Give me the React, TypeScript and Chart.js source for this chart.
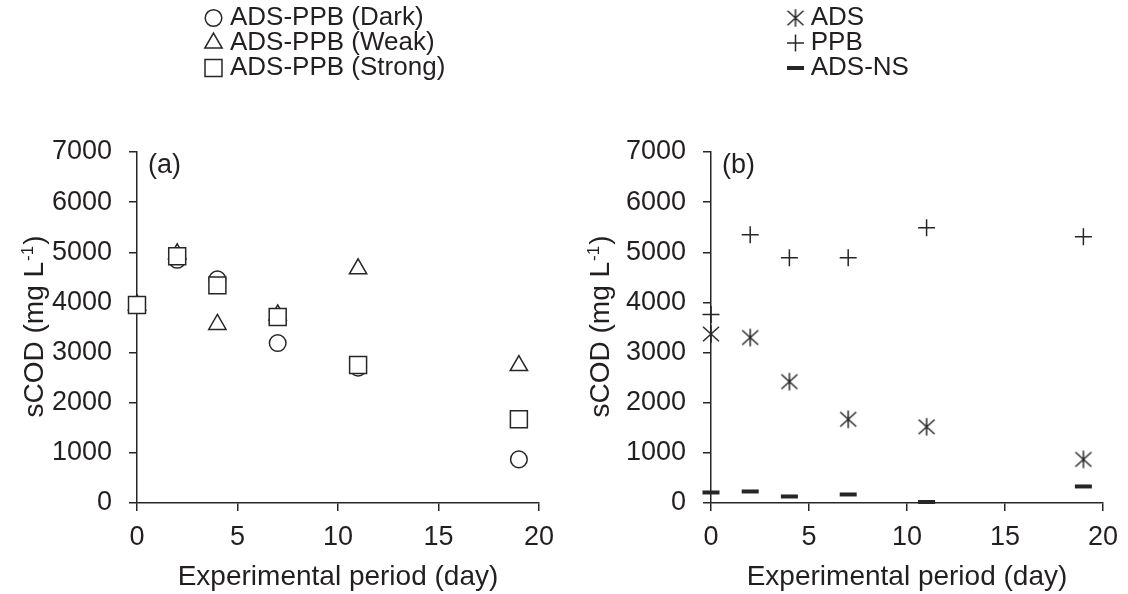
import React, { useEffect, useRef } from 'react';
import { Chart, registerables } from 'chart.js';
import { drawPoint } from 'chart.js/helpers';

Chart.register(...registerables);

// ---------- data ----------
const days = [0, 2, 4, 7, 11, 19];

const darkValues = [3950, 4850, 4460, 3190, 2700, 870];
const weakValues = [3950, 4970, 3560, 3750, 4670, 2740];
const strongValues = [3950, 4920, 4340, 3710, 2750, 1670];

const adsValues = [3370, 3300, 2420, 1670, 1520, 870];
const ppbValues = [3760, 5350, 4890, 4890, 5490, 5310];
const adsNsValues = [210, 230, 130, 170, 20, 330];

const xTickStep = 5;
const xMin = 0;
const xMax = 20;
const yTickStep = 1000;
const yMin = 0;
const yMax = 7000;

const xTitle = 'Experimental period (day)';
const yTitleMain = 'sCOD (mg L';
const yTitleSup = '-1';
const yTitleEnd = ')';

// ---------- style ----------
const FONT = '"Liberation Sans", Arial, Helvetica, sans-serif';
const INK = '#231f20';
const LINE = '#262626';
const W = 564;
const H = 594;

function makeAsterisk(): HTMLCanvasElement {
  const c = document.createElement('canvas');
  c.width = 22;
  c.height = 22;
  const g = c.getContext('2d')!;
  g.strokeStyle = LINE;
  g.lineWidth = 1.5;
  const cx = 11, cy = 11;
  g.beginPath();
  g.moveTo(cx, cy - 8.7);
  g.lineTo(cx, cy + 8.7);
  g.moveTo(cx - 8, cy - 7.2);
  g.lineTo(cx + 8, cy + 7.2);
  g.moveTo(cx - 8, cy + 7.2);
  g.lineTo(cx + 8, cy - 7.2);
  g.stroke();
  return c;
}

const toPts = (vals: number[]) => days.map((d, i) => ({ x: d, y: vals[i] }));

const decorPlugin = {
  id: 'decor',
  afterDraw(chart: any, _args: any, opts: any) {
    const ctx: CanvasRenderingContext2D = chart.ctx;
    ctx.save();
    // panel label
    ctx.fillStyle = INK;
    ctx.font = `27px ${FONT}`;
    ctx.textAlign = 'left';
    ctx.textBaseline = 'middle';
    ctx.fillText(opts.panel, opts.panelX, opts.panelY);

    // y title with superscript
    ctx.save();
    ctx.translate(opts.yTitleX, (chart.chartArea.top + chart.chartArea.bottom) / 2);
    ctx.rotate(-Math.PI / 2);
    ctx.textBaseline = 'alphabetic';
    const big = `28px ${FONT}`;
    const small = `17px ${FONT}`;
    ctx.font = big;
    const w1 = ctx.measureText(yTitleMain).width;
    const w3 = ctx.measureText(yTitleEnd).width;
    ctx.font = small;
    const w2 = ctx.measureText(yTitleSup).width;
    const x = -(w1 + w2 + w3) / 2;
    const base = 10;
    ctx.font = big;
    ctx.fillText(yTitleMain, x, base);
    ctx.font = small;
    ctx.fillText(yTitleSup, x + w1 + 1, base - 10);
    ctx.font = big;
    ctx.fillText(yTitleEnd, x + w1 + w2 + 2, base);
    ctx.restore();

    // legend
    ctx.font = `26px ${FONT}`;
    ctx.textBaseline = 'middle';
    chart.data.datasets.forEach((ds: any, i: number) => {
      const y = opts.legendY + i * opts.legendDy;
      ctx.strokeStyle = ds.pointBorderColor;
      ctx.fillStyle = ds.pointBackgroundColor;
      ctx.lineWidth = ds.pointBorderWidth;
      drawPoint(ctx, {
        pointStyle: ds.pointStyle,
        radius: ds.pointRadius,
        borderWidth: ds.pointBorderWidth,
        rotation: 0,
      } as any, opts.legendX, y);
      ctx.fillStyle = INK;
      ctx.fillText(ds.label, opts.legendTextX, y);
    });
    ctx.restore();
  },
};

function makeOptions(yWidth: number, rightPad: number, decor: any) {
  const tickFont = { family: FONT, size: 27 };
  return {
    responsive: false,
    animation: false as const,
    events: [] as any[],
    layout: { padding: { top: 152, right: rightPad, left: 0, bottom: 0 } },
    plugins: {
      legend: { display: false },
      tooltip: { enabled: false },
      decor,
    },
    scales: {
      x: {
        type: 'linear' as const,
        min: xMin,
        max: xMax,
        afterFit: (s: any) => { s.height = 91; },
        border: { color: LINE, width: 1.5 },
        grid: { drawOnChartArea: false, drawTicks: true, tickLength: 8, color: LINE, lineWidth: 1.5 },
        ticks: { stepSize: xTickStep, color: INK, font: tickFont, padding: 10, maxRotation: 0, callback: (v: any) => String(v) },
        title: { display: true, text: xTitle, color: INK, font: { family: FONT, size: 28 }, padding: { top: 0, bottom: 0 } },
      },
      y: {
        type: 'linear' as const,
        min: yMin,
        max: yMax,
        afterFit: (s: any) => { s.width = yWidth; },
        border: { color: LINE, width: 1.5 },
        grid: { drawOnChartArea: false, drawTicks: true, tickLength: 8, color: LINE, lineWidth: 1.5 },
        ticks: { stepSize: yTickStep, color: INK, font: tickFont, padding: 17, callback: (v: any) => String(v) },
      },
    },
  };
}

function ds(label: string, vals: number[], style: any, radius: number, width: number, order: number) {
  return {
    label,
    data: toPts(vals),
    pointStyle: style,
    pointRadius: radius,
    pointHoverRadius: radius,
    pointBorderWidth: width,
    pointBorderColor: LINE,
    pointBackgroundColor: '#ffffff',
    borderColor: LINE,
    backgroundColor: '#ffffff',
    showLine: false,
    clip: false,
    order,
  };
}

export default function App() {
  const leftRef = useRef<HTMLCanvasElement>(null);
  const rightRef = useRef<HTMLCanvasElement>(null);

  useEffect(() => {
    const asterisk = makeAsterisk();
    const left = new Chart(leftRef.current!, {
      type: 'scatter',
      data: {
        datasets: [
          ds('ADS-PPB (Dark)', darkValues, 'circle', 8.3, 1.5, 2),
          ds('ADS-PPB (Weak)', weakValues, 'triangle', 10, 1.5, 1),
          ds('ADS-PPB (Strong)', strongValues, 'rect', 12, 1.5, 0),
        ],
      },
      options: makeOptions(137, 24, {
        panel: '(a)', panelX: 148, panelY: 166, yTitleX: 33,
        legendX: 213.5, legendTextX: 230, legendY: 18, legendDy: 25,
      }) as any,
      plugins: [decorPlugin],
    });
    const right = new Chart(rightRef.current!, {
      type: 'scatter',
      data: {
        datasets: [
          ds('ADS', adsValues, asterisk, 9, 1.5, 0),
          ds('PPB', ppbValues, 'cross', 8.5, 1.5, 1),
          ds('ADS-NS', adsNsValues, 'line', 8.5, 4, 2),
        ],
      },
      options: makeOptions(147, 17, {
        panel: '(b)', panelX: 158, panelY: 166, yTitleX: 35,
        legendX: 231.5, legendTextX: 246.7, legendY: 18, legendDy: 25,
      }) as any,
      plugins: [decorPlugin],
    });
    return () => {
      left.destroy();
      right.destroy();
    };
  }, []);

  return (
    <div style={{ position: 'absolute', left: 0, top: 0, width: 1128, height: 594, background: '#fff' }}>
      <canvas ref={leftRef} width={W} height={H} style={{ position: 'absolute', left: 0, top: 0, width: W, height: H }} />
      <canvas ref={rightRef} width={W} height={H} style={{ position: 'absolute', left: 564, top: 0, width: W, height: H }} />
    </div>
  );
}
